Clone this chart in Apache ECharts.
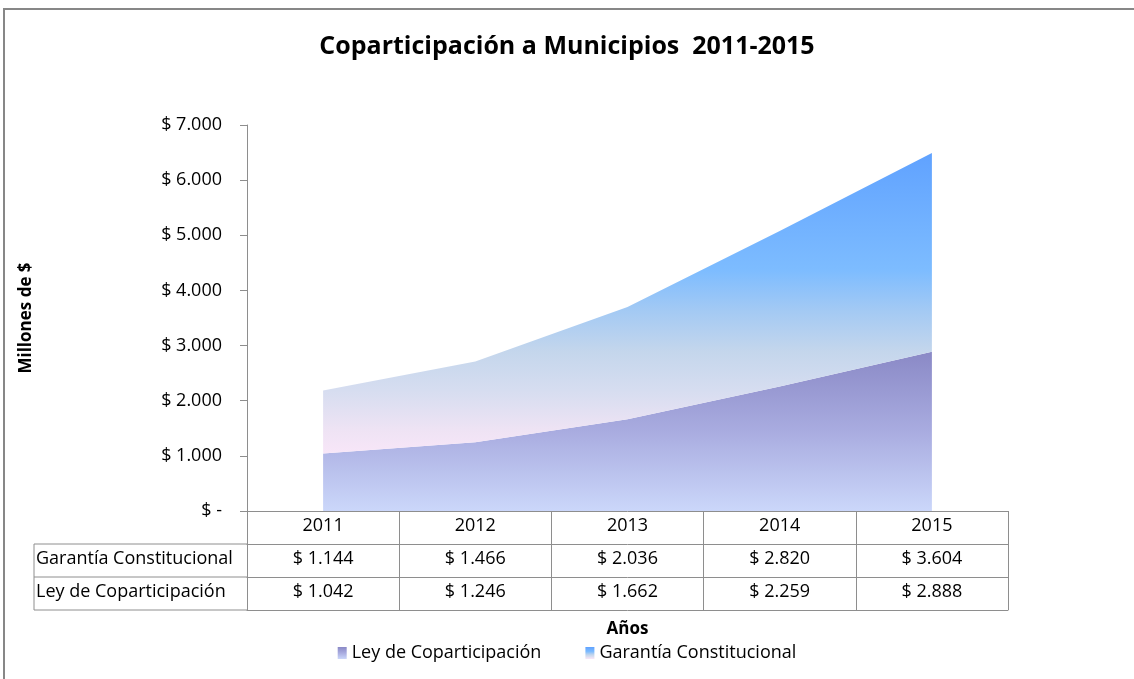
<!DOCTYPE html>
<html>
<head>
<meta charset="utf-8">
<script src="https://cdn.jsdelivr.net/npm/echarts@6/dist/echarts.min.js"></script>
<style>
  html, body { margin: 0; padding: 0; background: #fff; }
  #chart { width: 1134px; height: 679px; }
</style>
</head>
<body>
<div id="chart"></div>
<script>
// data
var years = ['2011', '2012', '2013', '2014', '2015'];
var ley = [1042, 1246, 1662, 2259, 2888];
var garantia = [1144, 1466, 2036, 2820, 3604];
var serieNames = ['Ley de Coparticipación', 'Garantía Constitucional'];
var yTicks = [0, 1000, 2000, 3000, 4000, 5000, 6000, 7000];

var FONT = '"Open Sans", "Noto Sans", sans-serif';
var FS = 18;
var GRID = { left: 247, right: 126, top: 125, bottom: 168 };
var ROW_H = 33;
var LINE = '#8e8e8e';

function miles(v) {
    var s = String(Math.round(v));
    return s.replace(/\B(?=(\d{3})+(?!\d))/g, '.');
}
function plata(v) {
    return v === 0 ? '$ -' : '$ ' + miles(v);
}

var leyGrad = new echarts.graphic.LinearGradient(0, 0, 0, 1, [
    { offset: 0, color: '#8a89c6' },
    { offset: 0.5, color: '#a9ace0' },
    { offset: 1, color: '#cbd7fa' }
]);
var garGrad = new echarts.graphic.LinearGradient(0, 0, 0, 1, [
    { offset: 0, color: '#60a2ff' },
    { offset: 0.39, color: '#7dbcff' },
    { offset: 0.52, color: '#a2c9f4' },
    { offset: 0.66, color: '#c4d6ec' },
    { offset: 0.79, color: '#d6ddf0' },
    { offset: 0.92, color: '#eee3f4' },
    { offset: 1, color: '#f8e6f8' }
]);

var chart = echarts.init(document.getElementById('chart'), null, { renderer: 'canvas' });

var x0 = GRID.left;
var baseY = 679 - GRID.bottom;
var tblLeft = 34;

var tableAxis = function (idx, labels, extra) {
    return Object.assign({
        type: 'category',
        data: labels,
        position: 'bottom',
        offset: idx * ROW_H,
        boundaryGap: true,
        axisLine: { show: true, lineStyle: { color: LINE, width: 1 } },
        axisTick: { show: true, interval: 0, length: ROW_H, lineStyle: { color: LINE } },
        axisLabel: { interval: 0, margin: 6, fontSize: FS, color: '#000', fontFamily: FONT },
        splitLine: { show: false }
    }, extra || {});
};

chart.setOption({
    backgroundColor: '#fff',
    animation: false,
    title: {
        text: 'Coparticipación a Municipios  2011-2015',
        left: 'center',
        top: 29,
        textStyle: { fontSize: 25, fontWeight: 'bold', color: '#000', fontFamily: FONT }
    },
    legend: {
        bottom: 12,
        left: 'center',
        itemWidth: 9,
        itemHeight: 12,
        itemGap: 44,
        textStyle: { fontSize: FS, color: '#000', fontFamily: FONT },
        data: [
            { name: serieNames[0], icon: 'rect', itemStyle: { color: leyGrad } },
            { name: serieNames[1], icon: 'rect', itemStyle: { color: garGrad } }
        ]
    },
    grid: GRID,
    xAxis: [
        tableAxis(0, years),
        tableAxis(1, garantia.map(plata)),
        tableAxis(2, ley.map(plata)),
        tableAxis(3, years, {
            axisTick: { show: false },
            axisLabel: { show: false },
            name: 'Años',
            nameLocation: 'middle',
            nameGap: 11,
            nameTextStyle: { fontSize: 17, fontWeight: 'bold', color: '#000', fontFamily: FONT }
        })
    ],
    yAxis: {
        type: 'value',
        min: yTicks[0],
        max: yTicks[yTicks.length - 1],
        interval: 1000,
        name: 'Millones de $',
        nameLocation: 'middle',
        nameRotate: 90,
        nameGap: 212,
        nameTextStyle: { fontSize: 17, fontWeight: 'bold', color: '#000', fontFamily: FONT },
        axisLine: { show: true, lineStyle: { color: LINE, width: 1 } },
        axisTick: { show: true, length: 7, lineStyle: { color: LINE } },
        splitLine: { show: false },
        axisLabel: {
            margin: 25,
            fontSize: FS,
            color: '#000',
            fontFamily: FONT,
            formatter: plata
        }
    },
    series: [
        {
            name: serieNames[0],
            type: 'line',
            stack: 'total',
            data: ley,
            symbol: 'none',
            lineStyle: { width: 0 },
            itemStyle: { color: leyGrad },
            areaStyle: { color: leyGrad, opacity: 1 }
        },
        {
            name: serieNames[1],
            type: 'line',
            stack: 'total',
            data: garantia,
            symbol: 'none',
            lineStyle: { width: 0 },
            itemStyle: { color: garGrad },
            areaStyle: { color: garGrad, opacity: 1 }
        }
    ],
    graphic: [
        // chart frame (top and left edges)
        { type: 'polyline', shape: { points: [[4, 679], [4, 9], [1134, 9]] },
          style: { stroke: '#878787', lineWidth: 2, fill: null } },
        // row header cells of the data table
        { type: 'polyline', shape: { points: [[x0, baseY + ROW_H], [tblLeft, baseY + ROW_H], [tblLeft, baseY + 3 * ROW_H], [x0, baseY + 3 * ROW_H]] },
          style: { stroke: LINE, lineWidth: 1, fill: null } },
        { type: 'line', shape: { x1: tblLeft, y1: baseY + 2 * ROW_H, x2: x0, y2: baseY + 2 * ROW_H },
          style: { stroke: LINE, lineWidth: 1 } },
        { type: 'text', left: tblLeft + 2, top: baseY + ROW_H + 6,
          style: { text: serieNames[1], fontSize: FS, fill: '#000', fontFamily: FONT } },
        { type: 'text', left: tblLeft + 2, top: baseY + 2 * ROW_H + 6,
          style: { text: serieNames[0], fontSize: FS, fill: '#000', fontFamily: FONT } }
    ]
});
</script>
</body>
</html>
